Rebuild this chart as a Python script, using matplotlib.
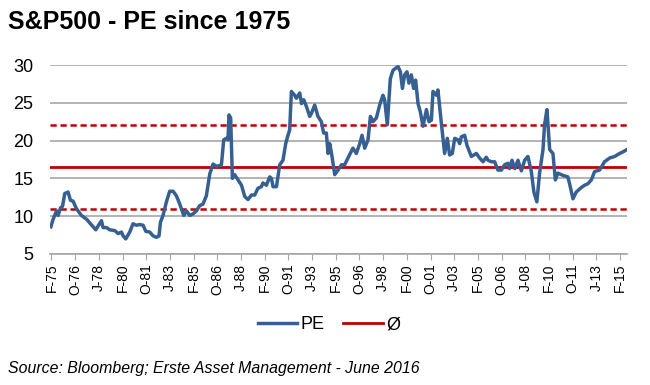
import matplotlib.pyplot as plt

plt.rcParams['font.family'] = ['Liberation Sans', 'DejaVu Sans']

# S&P500 PE ratio (decimal year, value)
years = [1975.04, 1975.20, 1975.44, 1975.55, 1975.72, 1975.86, 1976.02, 1976.25, 1976.42, 1976.60,
         1976.84, 1977.19, 1977.55, 1978.01, 1978.20, 1978.36, 1978.60, 1978.71, 1978.95, 1979.18,
         1979.54, 1979.77, 1980.01, 1980.12, 1980.31, 1980.59, 1980.82, 1981.06, 1981.29, 1981.53,
         1981.72, 1982.00, 1982.23, 1982.47, 1982.65, 1982.75, 1982.93, 1983.17, 1983.40, 1983.64,
         1983.87, 1984.11, 1984.39, 1984.58, 1984.81, 1985.04, 1985.28, 1985.51, 1985.74, 1985.98,
         1986.22, 1986.45, 1986.69, 1986.92, 1987.04, 1987.20, 1987.39, 1987.50, 1987.57, 1987.69,
         1987.81, 1987.97, 1988.21, 1988.45, 1988.68, 1988.91, 1989.15, 1989.38, 1989.61, 1989.85,
         1989.96, 1990.20, 1990.44, 1990.56, 1990.67, 1990.91, 1991.14, 1991.37, 1991.56, 1991.72,
         1991.84, 1991.96, 1992.19, 1992.31, 1992.55, 1992.67, 1992.83, 1993.02, 1993.25, 1993.37,
         1993.60, 1993.83, 1994.07, 1994.23, 1994.42, 1994.54, 1994.66, 1994.82, 1995.01, 1995.24,
         1995.48, 1995.71, 1995.94, 1996.29, 1996.53, 1996.77, 1996.93, 1997.12, 1997.35, 1997.52,
         1997.70, 1997.94, 1998.17, 1998.40, 1998.52, 1998.71, 1998.92, 1999.11, 1999.46, 1999.63,
         1999.77, 1999.93, 2000.09, 2000.23, 2000.40, 2000.56, 2000.70, 2000.87, 2001.03, 2001.22,
         2001.46, 2001.64, 2001.81, 2001.92, 2002.16, 2002.27, 2002.51, 2002.74, 2002.93, 2003.09,
         2003.28, 2003.45, 2003.68, 2003.80, 2003.92, 2004.15, 2004.31, 2004.62, 2004.97, 2005.20,
         2005.44, 2005.67, 2005.79, 2006.03, 2006.26, 2006.49, 2006.73, 2006.96, 2007.19, 2007.30,
         2007.48, 2007.68, 2007.90, 2008.14, 2008.37, 2008.60, 2008.84, 2009.02, 2009.23, 2009.42,
         2009.66, 2009.77, 2009.94, 2010.13, 2010.36, 2010.53, 2010.71, 2011.06, 2011.41, 2011.53,
         2011.77, 2012.00, 2012.36, 2012.59, 2012.82, 2013.06, 2013.29, 2013.64, 2013.99, 2014.35,
         2014.70, 2015.05, 2015.28, 2015.55]
pe = [8.6, 9.6, 10.7, 10.1, 11.1, 11.3, 13.0, 13.2, 12.1, 12.0,
      11.0, 10.1, 9.6, 8.6, 8.2, 8.7, 9.4, 8.5, 8.5, 8.2,
      8.1, 7.7, 7.9, 7.4, 7.0, 7.9, 9.0, 8.8, 8.9, 8.8,
      8.0, 7.9, 7.4, 7.2, 7.4, 9.2, 10.1, 11.9, 13.3, 13.3,
      12.7, 11.6, 10.1, 10.7, 10.1, 10.3, 10.7, 11.4, 11.6, 12.7,
      15.6, 16.9, 16.6, 16.7, 16.8, 20.1, 20.3, 20.1, 23.4, 23.0,
      15.0, 15.5, 14.8, 14.1, 12.6, 12.2, 12.8, 12.8, 13.7, 13.9,
      14.4, 14.1, 15.2, 15.0, 13.9, 13.9, 16.8, 17.4, 19.6, 20.7,
      21.4, 26.5, 26.0, 25.6, 26.3, 24.9, 25.4, 24.5, 23.2, 23.6,
      24.7, 23.2, 22.5, 21.0, 21.0, 18.3, 19.6, 17.9, 15.5, 16.1,
      16.8, 16.8, 17.7, 19.0, 18.3, 19.6, 20.7, 19.0, 20.1, 23.2,
      22.5, 23.0, 24.7, 26.0, 25.4, 22.1, 28.2, 29.3, 29.8, 29.1,
      26.9, 28.7, 29.1, 27.6, 28.7, 26.9, 28.0, 24.9, 23.8, 21.9,
      24.1, 22.5, 22.7, 26.5, 26.0, 26.7, 22.3, 18.3, 20.3, 18.1,
      18.3, 20.3, 20.1, 19.6, 20.5, 20.7, 19.4, 17.9, 18.3, 17.7,
      17.2, 17.8, 17.4, 17.2, 17.2, 16.1, 16.1, 16.8, 17.0, 16.3,
      17.4, 16.3, 17.4, 16.0, 17.4, 17.9, 15.9, 13.2, 11.9, 15.7,
      18.8, 22.1, 24.1, 18.8, 18.3, 14.8, 15.7, 15.4, 15.2, 14.3,
      12.3, 13.2, 13.8, 14.1, 14.3, 14.8, 15.9, 16.1, 17.2, 17.7,
      17.9, 18.3, 18.5, 18.8]

pe_avg = 16.5
pe_hi = 22.1
pe_lo = 10.9

tick_labels = ['F-75', 'O-76', 'J-78', 'F-80', 'O-81', 'J-83', 'F-85', 'O-86', 'J-88',
               'F-90', 'O-91', 'J-93', 'F-95', 'O-96', 'J-98', 'F-00', 'O-01', 'J-03',
               'F-05', 'O-06', 'J-08', 'F-10', 'O-11', 'J-13', 'F-15']


def label_to_year(s):
    m = {'F': 2, 'J': 6, 'O': 10}[s[0]]
    yy = int(s[2:])
    y = 1900 + yy if yy > 50 else 2000 + yy
    return y + (m - 1) / 12


fig = plt.figure(figsize=(6.5, 3.85), dpi=100)
ax = fig.add_axes([50/650, 1-254/385, 577/650, 189/385])

ax.plot(years, pe, color='#376092', lw=2.5, label='PE', solid_joinstyle='round', zorder=4)
ax.axhline(pe_avg, color='#C00000', lw=2, label='Ø', zorder=3)
for v in (pe_hi, pe_lo):
    ax.axhline(v, color='#C00000', lw=1.8, dashes=(2.5, 1.5), zorder=3)

ax.set_ylim(5, 30)
ax.set_yticks(range(5, 31, 5))
ax.set_xlim(1974.98, 2015.57)
ax.set_xticks([label_to_year(s) for s in tick_labels])
ax.set_xticklabels(tick_labels, rotation=90, fontsize=10)
ax.grid(axis='y', color='#A6A6A6', lw=1.2)
ax.set_axisbelow(True)
for s in ['top', 'right', 'left']:
    ax.spines[s].set_visible(False)
ax.spines['bottom'].set_color('#A6A6A6')
ax.spines['bottom'].set_linewidth(1.2)
ax.tick_params(axis='y', length=0, labelsize=13, pad=12)
ax.tick_params(axis='x', length=4, color='#A6A6A6', pad=3)

fig.legend(loc='center', bbox_to_anchor=(0.506, 0.156), ncol=2, frameon=False, fontsize=13,
           handlelength=2.2, columnspacing=1.0, handletextpad=0.2)

fig.text(0.012, 0.943, 'S&P500 - PE since 1975', fontsize=18, fontweight='bold', va='center')
fig.text(0.012, 0.044, 'Source: Bloomberg; Erste Asset Management - June 2016', fontsize=11.4,
         style='italic', va='center')

fig.savefig('out.png', dpi=100)
